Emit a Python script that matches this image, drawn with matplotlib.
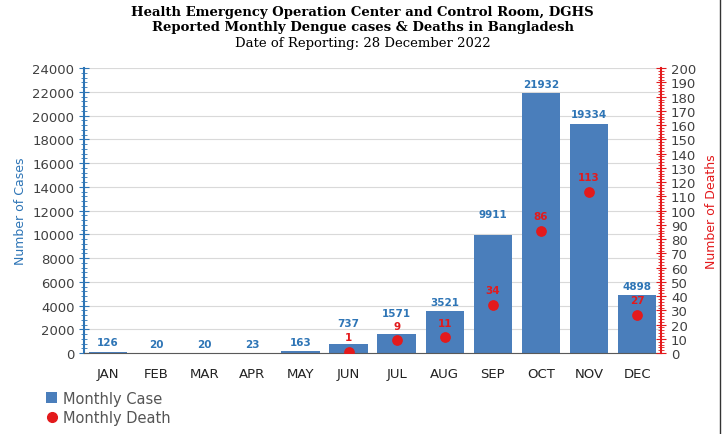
import matplotlib.pyplot as plt
from matplotlib.ticker import MultipleLocator
from matplotlib.lines import Line2D
from matplotlib.patches import Patch

# Data
months = ['JAN', 'FEB', 'MAR', 'APR', 'MAY', 'JUN', 'JUL', 'AUG', 'SEP', 'OCT', 'NOV', 'DEC']
cases = [126, 20, 20, 23, 163, 737, 1571, 3521, 9911, 21932, 19334, 4898]
death_months = ['JUN', 'JUL', 'AUG', 'SEP', 'OCT', 'NOV', 'DEC']
deaths = [1, 9, 11, 34, 86, 113, 27]

title_lines = ['Health Emergency Operation Center and Control Room, DGHS',
               'Reported Monthly Dengue cases & Deaths in Bangladesh']
subtitle = 'Date of Reporting: 28 December 2022'

bar_color = '#4A7EBB'
case_blue = '#2E75B6'
death_red = '#E31A1C'

# case labels that were lifted in the original to clear the death labels
lifted = ['JUN', 'JUL', 'SEP']

fig = plt.figure(figsize=(7.25, 4.35), dpi=100)
ax = fig.add_axes([0.116, 0.186, 0.796, 0.655])

x = list(range(len(months)))
ax.bar(x, cases, width=0.8, color=bar_color, zorder=2)
for xi, v in zip(x, cases):
    off = 12 if months[xi] in lifted else 3
    ax.annotate(str(v), (xi, v), xytext=(0, off), textcoords='offset points',
                ha='center', va='bottom', fontsize=7.5, fontweight='bold', color=case_blue)

ax.set_xlim(-0.5, len(months) - 0.5)
ax.set_ylim(0, 24000)
ax.yaxis.set_major_locator(MultipleLocator(2000))
ax.yaxis.set_minor_locator(MultipleLocator(400))
ax.set_xticks(x)
ax.set_xticklabels(months, fontsize=9.5, color='#222222')
ax.tick_params(axis='x', length=0, pad=10)
ax.tick_params(axis='y', which='major', direction='inout', length=7, color=case_blue,
               labelsize=9.5, labelcolor='#404040')
ax.tick_params(axis='y', which='minor', direction='inout', length=4, color=case_blue)
ax.grid(axis='y', color='#D9D9D9', linewidth=0.8, zorder=0)
ax.set_axisbelow(True)
ax.spines['top'].set_visible(False)
ax.spines['right'].set_visible(False)
ax.spines['left'].set_color(case_blue)
ax.spines['left'].set_linewidth(1.5)
ax.spines['bottom'].set_color('#595959')
ax.set_ylabel('Number of Cases', color=case_blue, fontsize=9, labelpad=4)

# secondary axis for deaths
ax2 = ax.twinx()
dx = [months.index(m) for m in death_months]
ax2.scatter(dx, deaths, s=45, color=death_red, zorder=3)
for xi, v in zip(dx, deaths):
    ax2.annotate(str(v), (xi, v), xytext=(0, 7), textcoords='offset points',
                 ha='center', va='bottom', fontsize=7.5, fontweight='bold', color=death_red)
ax2.set_ylim(0, 200)
ax2.yaxis.set_major_locator(MultipleLocator(10))
ax2.yaxis.set_minor_locator(MultipleLocator(2))
ax2.tick_params(axis='y', which='major', direction='inout', length=7, color=death_red,
                labelsize=9.5, labelcolor='#404040')
ax2.tick_params(axis='y', which='minor', direction='inout', length=4, color=death_red)
for s in ['top', 'left', 'bottom']:
    ax2.spines[s].set_visible(False)
ax2.spines['right'].set_color(death_red)
ax2.spines['right'].set_linewidth(1.5)
ax2.set_ylabel('Number of Deaths', color=death_red, fontsize=9, labelpad=6)

# titles
fig.text(0.5, 0.972, title_lines[0], ha='center', va='center', fontsize=9.5,
         fontweight='bold', family='DejaVu Serif')
fig.text(0.5, 0.936, title_lines[1], ha='center', va='center', fontsize=9.5,
         fontweight='bold', family='DejaVu Serif')
fig.text(0.5, 0.900, subtitle, ha='center', va='center', fontsize=9.5,
         family='DejaVu Serif')

# legend below the plot
handles = [Patch(facecolor=bar_color, label='Monthly Case'),
           Line2D([0], [0], marker='o', color='none', markerfacecolor=death_red,
                  markeredgecolor=death_red, markersize=7, label='Monthly Death')]
fig.legend(handles=handles, loc='upper left', bbox_to_anchor=(0.055, 0.113),
           frameon=False, fontsize=10.5, labelcolor='#555555', handlelength=0.8,
           handletextpad=0.4, labelspacing=0.3, borderaxespad=0)

# right edge frame line
fig.add_artist(Line2D([0.993, 0.993], [0.0, 1.0], color='#333333', linewidth=1))

fig.savefig('out.png', dpi=100)
